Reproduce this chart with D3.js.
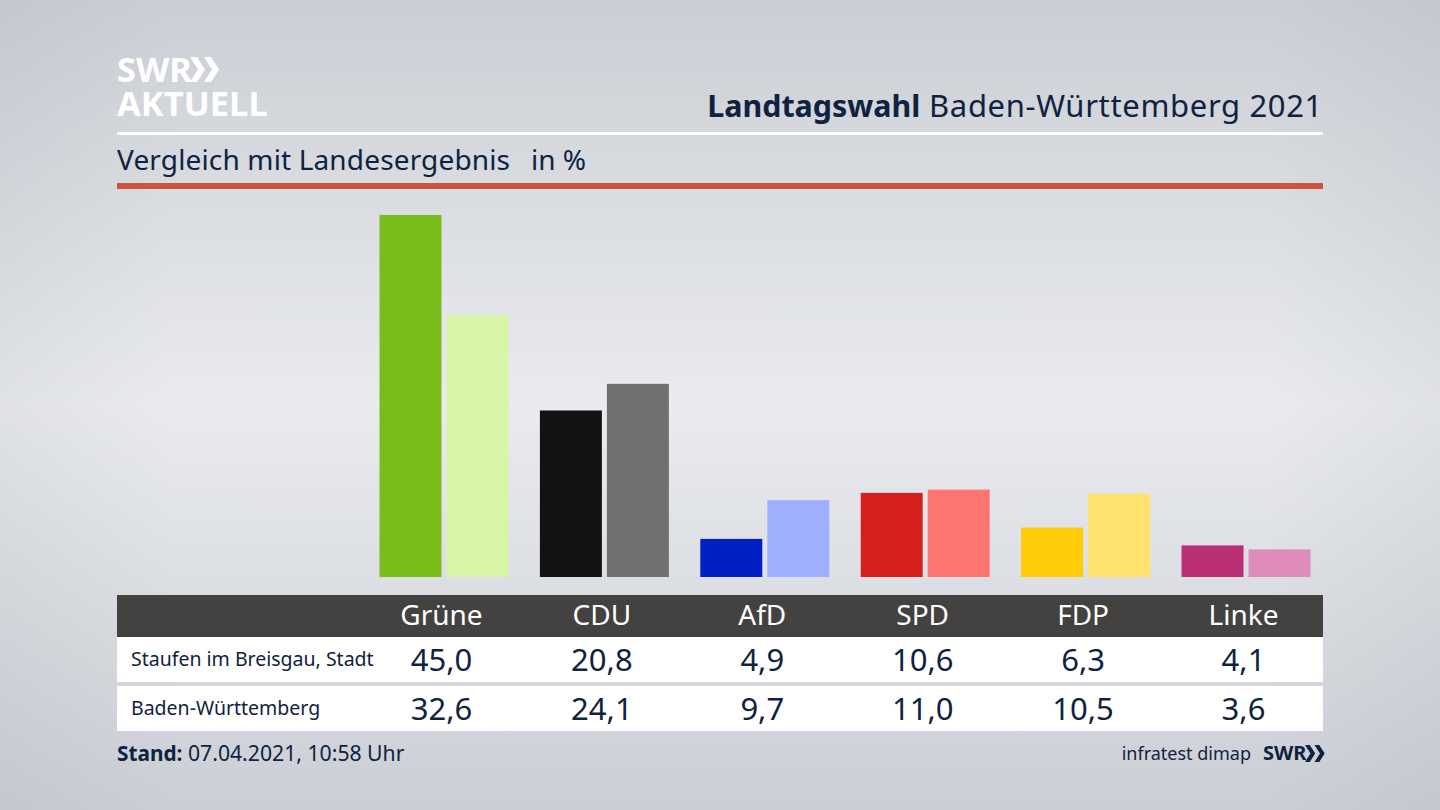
<!DOCTYPE html>
<html>
<head>
<meta charset="utf-8">
<script src="https://cdn.jsdelivr.net/npm/d3@7"></script>
<style>
  html, body { margin: 0; padding: 0; }
  svg { display: block; }
  text { font-family: "Noto Sans", "Open Sans", sans-serif; fill: #0f2340; }
</style>
</head>
<body>
<script>
const parties = ["Grüne", "CDU", "AfD", "SPD", "FDP", "Linke"];
const rowNames = ["Staufen im Breisgau, Stadt", "Baden-Württemberg"];
const localValues = [45.0, 20.8, 4.9, 10.6, 6.3, 4.1];
const stateValues = [32.6, 24.1, 9.7, 11.0, 10.5, 3.6];
const localColors = ["#79bd1b", "#121212", "#0020c4", "#d71f1d", "#ffcc07", "#bb2f74"];
const stateColors = ["#d6f5a9", "#71706e", "#a0aeff", "#ff7570", "#ffe170", "#e08cb9"];

const width = 1440, height = 810;
const left = 117, right = 1323;

const svg = d3.select("body").append("svg")
    .attr("width", width)
    .attr("height", height);

// background: light band in the middle, darker towards the edges
const defs = svg.append("defs");
const bg = defs.append("linearGradient").attr("id", "bg")
    .attr("x1", 0).attr("y1", 0).attr("x2", 0).attr("y2", 1);
[[0, "#cbced4"], [0.5, "#e9ebef"], [1, "#cbced4"]].forEach(d =>
    bg.append("stop").attr("offset", d[0]).attr("stop-color", d[1]));
const edge = defs.append("linearGradient").attr("id", "edge")
    .attr("x1", 0).attr("y1", 0).attr("x2", 1).attr("y2", 0);
[[0, 0.10], [0.12, 0], [0.88, 0], [1, 0.10]].forEach(d =>
    edge.append("stop").attr("offset", d[0]).attr("stop-color", "#8a8f99").attr("stop-opacity", d[1]));
svg.append("rect").attr("width", width).attr("height", height).attr("fill", "url(#bg)");
svg.append("rect").attr("width", width).attr("height", height).attr("fill", "url(#edge)");

// scales
const x = d3.scaleBand().domain(parties).range([379.5, 1310.5]).paddingInner(0.196).paddingOuter(0);
const xInner = d3.scaleBand().domain([0, 1]).range([0, x.bandwidth()]).paddingInner(0.075).paddingOuter(0);
const y = d3.scaleLinear().domain([0, 45]).range([578.5, 215]);
const baseline = 577; // bars stop just above the scale's zero
const colCenter = d => x(d) + xInner.bandwidth();

// bars
const groups = svg.selectAll(".party")
    .data(parties)
    .join("g")
    .attr("class", "party")
    .attr("transform", d => `translate(${x(d)},0)`);

[[localValues, localColors], [stateValues, stateColors]].forEach((s, k) => {
    groups.append("rect")
        .attr("x", xInner(k))
        .attr("width", xInner.bandwidth())
        .attr("y", (d, i) => y(s[0][i]))
        .attr("height", (d, i) => baseline - y(s[0][i]))
        .attr("fill", (d, i) => s[1][i]);
});

// header
svg.append("rect").attr("x", left).attr("y", 132).attr("width", right - left).attr("height", 3).attr("fill", "#fff");
svg.append("rect").attr("x", left).attr("y", 183).attr("width", right - left).attr("height", 6).attr("fill", "#cb553c");

const title = svg.append("text").attr("x", right).attr("y", 117)
    .attr("text-anchor", "end").attr("font-size", 31);
title.append("tspan").attr("font-weight", 700).attr("font-size", 30.4).text("Landtagswahl");
title.append("tspan").attr("letter-spacing", 0.65).text(" Baden-Württemberg 2021");

svg.append("text").attr("x", left).attr("y", 170).attr("font-size", 28).attr("letter-spacing", 0.15).text("Vergleich mit Landesergebnis");
svg.append("text").attr("x", 531).attr("y", 170).attr("font-size", 28).text("in %");

// SWR AKTUELL logo
svg.append("text").attr("x", left).attr("y", 82).attr("font-size", 34.5).attr("font-weight", 700)
    .style("fill", "#fff").text("SWR");
svg.append("text").attr("x", left).attr("y", 116).attr("font-size", 34.5).attr("font-weight", 700)
    .style("fill", "#fff").text("AKTUELL");

function chevrons(px, py, h, color) {
    const w = h * 0.32, t = h * 0.28;
    [0, w + t - h * 0.04].forEach(dx => {
        svg.append("path")
            .attr("d", d3.line()([[px + dx, py], [px + dx + t, py], [px + dx + t + w, py + h / 2], [px + dx + t, py + h], [px + dx, py + h], [px + dx + w, py + h / 2]]) + "Z")
            .attr("fill", color);
    });
}
chevrons(190, 57, 25, "#fff");

// table
const rowBand = [[637, 45], [686, 45]];
svg.append("rect").attr("x", left).attr("y", 595).attr("width", right - left).attr("height", 42).attr("fill", "#434240");
svg.selectAll(".row").data(rowBand).join("rect")
    .attr("class", "row")
    .attr("x", left).attr("width", right - left)
    .attr("y", d => d[0]).attr("height", d => d[1])
    .attr("fill", "#fff");

svg.selectAll(".col").data(parties).join("text")
    .attr("class", "col")
    .attr("x", colCenter).attr("y", 625)
    .attr("text-anchor", "middle").attr("font-size", 28)
    .style("fill", "#fff")
    .text(d => d);

svg.selectAll(".rowname").data(rowNames).join("text")
    .attr("class", "rowname")
    .attr("x", 131).attr("y", (d, i) => [666, 715][i])
    .attr("font-size", 19.5)
    .text(d => d);

const fmt = v => v.toFixed(1).replace(".", ",");
[localValues, stateValues].forEach((vals, r) => {
    svg.selectAll(".val" + r).data(parties).join("text")
        .attr("class", "val" + r)
        .attr("x", colCenter).attr("y", [671, 720][r])
        .attr("text-anchor", "middle").attr("font-size", 31)
        .text((d, i) => fmt(vals[i]));
});

// footer
const stand = svg.append("text").attr("x", left).attr("y", 761).attr("font-size", 21.2);
stand.append("tspan").attr("font-weight", 700).attr("font-size", 20.8).text("Stand:");
stand.append("tspan").text(" 07.04.2021, 10:58 Uhr");

svg.append("text").attr("x", 1251).attr("y", 760).attr("text-anchor", "end").attr("font-size", 18).text("infratest dimap");
svg.append("text").attr("x", 1263).attr("y", 760).attr("font-size", 20).attr("font-weight", 700).text("SWR");
chevrons(1305, 745, 17, "#0f2340");
</script>
</body>
</html>
